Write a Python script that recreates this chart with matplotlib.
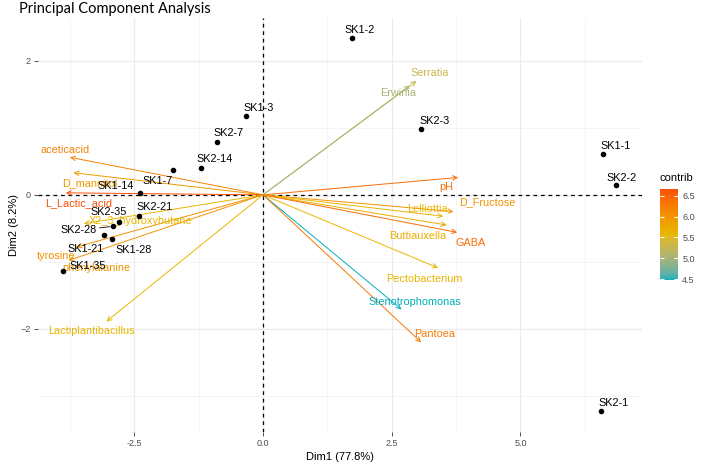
import numpy as np
import matplotlib
matplotlib.use("Agg")
from matplotlib import pyplot as plt
from matplotlib.colors import ListedColormap, Normalize, to_rgb
from matplotlib.cm import ScalarMappable

plt.rcParams['font.family'] = ['Liberation Sans', 'DejaVu Sans']

# individuals (PCA scores)
samples = ['SK1-1', 'SK1-2', 'SK1-3', 'SK1-7', 'SK1-14', 'SK1-21', 'SK1-28', 'SK1-35',
           'SK2-1', 'SK2-2', 'SK2-3', 'SK2-7', 'SK2-14', 'SK2-21', 'SK2-28', 'SK2-35']
dim1 = [6.60, 1.73, -0.33, -1.75, -2.39, -3.09, -2.94, -3.89,
        6.56, 6.85, 3.07, -0.90, -1.20, -2.40, -2.92, -2.80]
dim2 = [0.61, 2.34, 1.18, 0.37, 0.03, -0.60, -0.66, -1.13,
        -3.23, 0.15, 0.98, 0.79, 0.40, -0.31, -0.47, -0.41]

# variables (loadings, scaled) and their contributions
variables = ['aceticacid', 'D_mannitol', 'L_Lactic_acid', 'X2_3_hydroxybutane', 'tyrosine',
             'phenylalanine', 'Lactiplantibacillus', 'Serratia', 'Erwinia', 'pH', 'D_Fructose',
             'Lelliottia', 'Buttiauxella', 'GABA', 'Pectobacterium', 'Stenotrophomonas', 'Pantoea']
var_dim1 = [-3.75, -3.68, -3.83, -3.48, -3.63, -3.78, -3.04, 2.98, 2.85, 3.79, 3.70,
            3.50, 3.57, 3.77, 3.40, 2.69, 3.07]
var_dim2 = [0.56, 0.33, 0.03, -0.43, -0.78, -0.98, -1.89, 1.70, 1.63, 0.26, -0.25,
            -0.32, -0.45, -0.56, -1.09, -1.71, -2.20]
contrib = [6.20, 5.95, 6.66, 5.60, 6.05, 6.00, 5.60, 5.30, 5.05, 6.40, 6.00,
           5.60, 5.70, 6.40, 5.60, 4.48, 6.30]

gradient = ['#00AFBB', '#E7B800', '#FC4E07']

# label placement (pixels from the point / arrow tip)
sample_offsets = {
    'SK1-1': (13, 8), 'SK1-2': (7, 8), 'SK1-3': (13, 8), 'SK1-7': (-15, -11),
    'SK1-14': (-24, 7), 'SK1-21': (-18, -14), 'SK1-28': (22, -11), 'SK1-35': (25, 5),
    'SK2-1': (13, 8), 'SK2-2': (6, 7), 'SK2-3': (13, 8), 'SK2-7': (12, 9),
    'SK2-14': (13, 9), 'SK2-21': (15, 9), 'SK2-28': (-34, -4), 'SK2-35': (-10, 10),
}
var_offsets = {
    'aceticacid': (-5, 7), 'D_mannitol': (16, -10), 'L_Lactic_acid': (13, -10),
    'X2_3_hydroxybutane': (57, 3), 'tyrosine': (-20, -9), 'phenylalanine': (28, -7),
    'Lactiplantibacillus': (-15, -10), 'Serratia': (13, 8), 'Erwinia': (-12, -7),
    'pH': (-12, -10), 'D_Fructose': (34, 9), 'Lelliottia': (-16, 7),
    'Buttiauxella': (-29, -11), 'GABA': (13, -11), 'Pectobacterium': (-14, -11),
    'Stenotrophomonas': (13, 7), 'Pantoea': (14, 8),
}

# colour ramp interpolated in CIELAB, like ggplot's gradientn
M = np.array([[0.4124, 0.3576, 0.1805], [0.2126, 0.7152, 0.0722], [0.0193, 0.1192, 0.9505]])
WHITE = np.array([0.95047, 1.0, 1.08883])


def to_lab(rgb):
    c = np.asarray(rgb)
    lin = np.where(c <= 0.04045, c / 12.92, ((c + 0.055) / 1.055) ** 2.4)
    xyz = M @ lin / WHITE
    f = np.where(xyz > 0.008856, np.cbrt(xyz), 7.787 * xyz + 16 / 116)
    return np.array([116 * f[1] - 16, 500 * (f[0] - f[1]), 200 * (f[1] - f[2])])


def from_lab(lab):
    fy = (lab[0] + 16) / 116
    f = np.array([fy + lab[1] / 500, fy, fy - lab[2] / 200])
    xyz = np.where(f ** 3 > 0.008856, f ** 3, (f - 16 / 116) / 7.787) * WHITE
    lin = np.linalg.solve(M, xyz)
    c = np.where(lin <= 0.0031308, 12.92 * lin, 1.055 * np.clip(lin, 0, None) ** (1 / 2.4) - 0.055)
    return np.clip(c, 0, 1)


labs = [to_lab(to_rgb(c)) for c in gradient]
ramp = []
for t in np.linspace(0, 1, 256):
    seg = min(int(t * 2), 1)
    u = t * 2 - seg
    ramp.append(from_lab(labs[seg] * (1 - u) + labs[seg + 1] * u))
cmap = ListedColormap(ramp)
norm = Normalize(vmin=min(contrib), vmax=max(contrib))

fig = plt.figure(figsize=(7.08, 4.67), dpi=100)
ax = fig.add_axes([38 / 708, 1 - 432 / 467, 604 / 708, 414 / 467])

ax.set_xlim(-4.37, 7.36)
ax.set_ylim(-3.54, 2.64)
ax.set_xticks([-2.5, 0, 2.5, 5.0])
ax.set_xticklabels(['-2.5', '0.0', '2.5', '5.0'])
ax.set_yticks([-2, 0, 2])
ax.set_xticks([-3.75, -1.25, 1.25, 3.75, 6.25], minor=True)
ax.set_yticks([-3, -1, 1], minor=True)
ax.grid(which='major', color='#ebebeb', lw=0.9)
ax.grid(which='minor', color='#f2f2f2', lw=0.6)
ax.set_axisbelow(True)
for s in ax.spines.values():
    s.set_visible(False)
ax.tick_params(which='major', length=3, width=0.6, color='#333333',
               labelsize=6.5, labelcolor='#4d4d4d', pad=2)
ax.tick_params(which='minor', length=0)

ax.axhline(0, color='black', ls='--', lw=0.9, dashes=(3, 3), zorder=1)
ax.axvline(0, color='black', ls='--', lw=0.9, dashes=(3, 3), zorder=1)

for name, vx, vy, c in zip(variables, var_dim1, var_dim2, contrib):
    col = cmap(norm(c))
    ax.annotate('', xy=(vx, vy), xytext=(0, 0),
                arrowprops=dict(arrowstyle='->', color=col, lw=0.7,
                                shrinkA=0, shrinkB=0, mutation_scale=8), zorder=2)
    ax.annotate(name, xy=(vx, vy), xytext=var_offsets[name], textcoords='offset pixels',
                ha='center', va='center', color=col, fontsize=7.8, zorder=3)

ax.scatter(dim1, dim2, s=9, color='black', zorder=4)
for name, x, y in zip(samples, dim1, dim2):
    props = None
    if name == 'SK2-28':
        props = dict(arrowstyle='-', color='black', lw=0.6, shrinkA=0, shrinkB=2)
    ax.annotate(name, xy=(x, y), xytext=sample_offsets[name], textcoords='offset pixels',
                ha='center', va='center', color='black', fontsize=7.8, zorder=5,
                arrowprops=props)

ax.set_xlabel('Dim1 (77.8%)', fontsize=8, labelpad=3)
ax.set_ylabel('Dim2 (8.2%)', fontsize=8, labelpad=1)

fig.text(19 / 708, 1 - 9 / 467, 'Principal Component Analysis', family='Lato',
         fontsize=10.5, ha='left', va='center')

cax = fig.add_axes([660 / 708, 1 - 280 / 467, 18 / 708, 91 / 467])
cb = fig.colorbar(ScalarMappable(norm=norm, cmap=cmap), cax=cax)
cb.outline.set_visible(False)
cb.set_ticks([4.5, 5.0, 5.5, 6.0, 6.5])
cb.set_ticklabels(['4.5', '5.0', '5.5', '6.0', '6.5'])
cax.tick_params(axis='y', direction='in', color='white', length=3, width=0.8,
                left=True, right=True, labelsize=6.5, labelcolor='#4d4d4d', pad=3)
fig.text(660 / 708, 1 - 178 / 467, 'contrib', fontsize=8, ha='left', va='center')

fig.savefig('out.png', dpi=100)
